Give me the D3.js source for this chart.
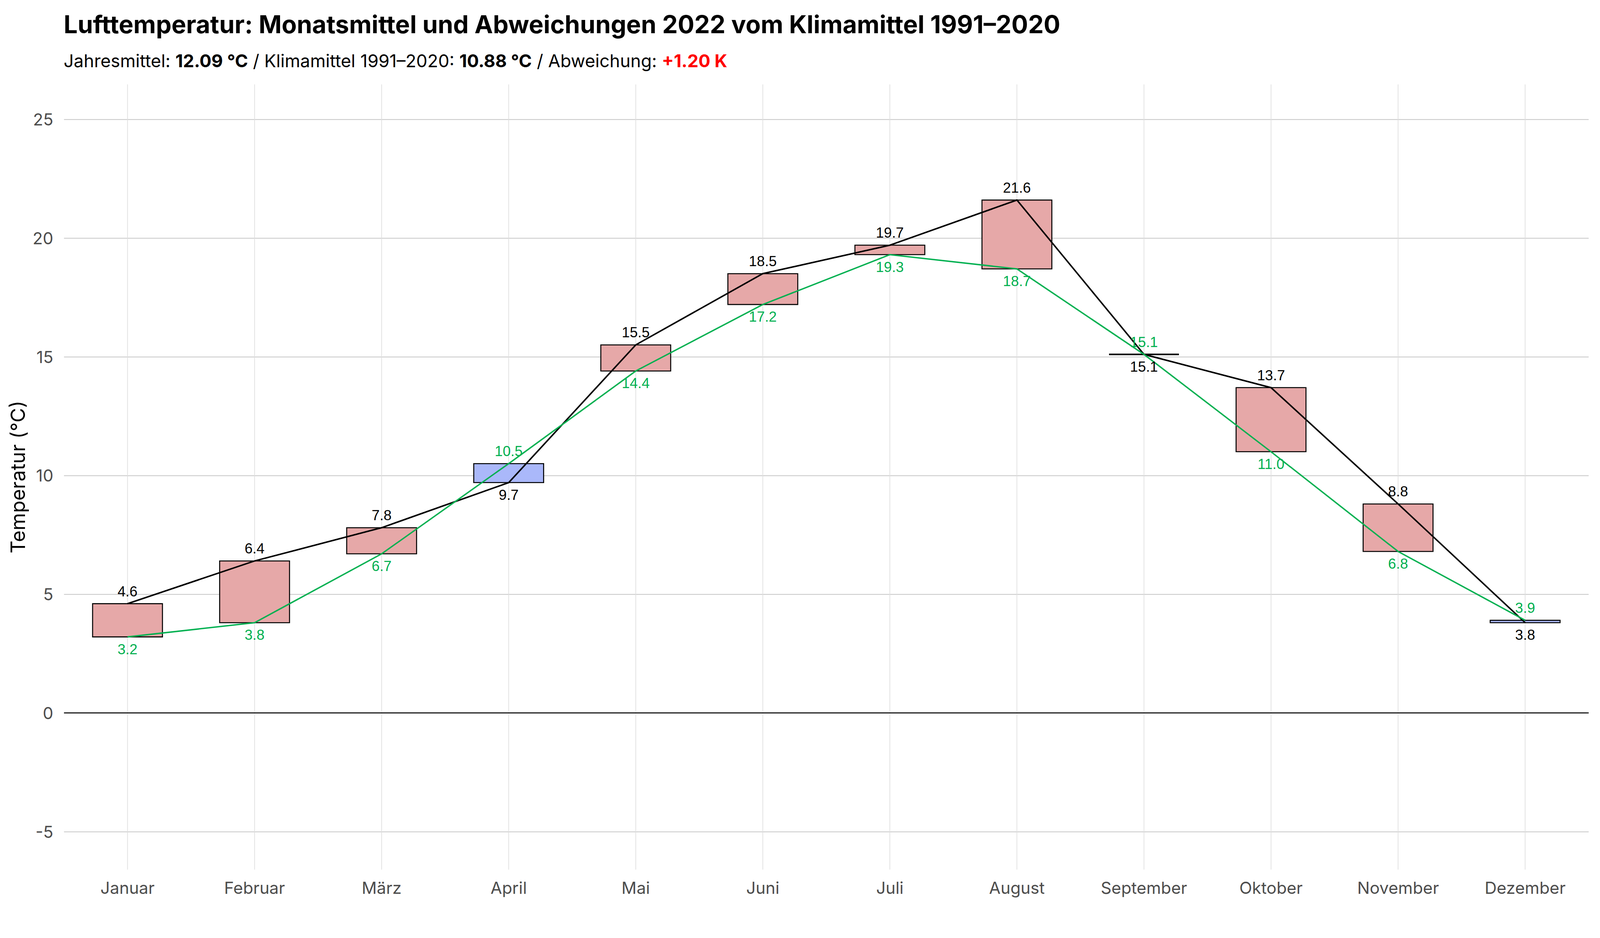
<!DOCTYPE html>
<html>
<head>
<meta charset="utf-8">
<script src="https://cdn.jsdelivr.net/npm/d3@7"></script>
<style>
  html, body { margin: 0; padding: 0; background: #fff; overflow: hidden; }
  svg { font-family: Inter, "Noto Sans", sans-serif; display: block; }
</style>
</head>
<body>
<div id="chart"></div>
<script>
// monthly means 2022 vs. climate normal 1991-2020
const months = ['Januar', 'Februar', 'März', 'April', 'Mai', 'Juni', 'Juli', 'August', 'September', 'Oktober', 'November', 'Dezember'];
const temp2022 = [4.6, 6.4, 7.8, 9.7, 15.5, 18.5, 19.7, 21.6, 15.1, 13.7, 8.8, 3.8];
const climMean = [3.2, 3.8, 6.7, 10.5, 14.4, 17.2, 19.3, 18.7, 15.1, 11.0, 6.8, 3.9];
const yTicks = [-5, 0, 5, 10, 15, 20, 25];

// layout is laid out for 4800x2400 and stretched to whatever the window really is
const W = window.innerWidth || 4800;
const H = window.innerHeight || 2400;
const sx = W / 4800, sy = H / 2400;
const k = Math.min(sx, sy); // font / stroke scale

const panel = { left: 192 * sx, right: 4766 * sx, top: 216 * sy, bottom: 2225 * sy };

const svg = d3.select('#chart')
  .append('svg')
  .attr('width', W)
  .attr('height', H);

const x = d3.scaleBand()
  .domain(months)
  .range([panel.left, panel.right])
  .padding(0);

const y = d3.scaleLinear()
  .domain([-6.6, 26.47])
  .range([panel.bottom, panel.top]);

const cx = m => x(m) + x.bandwidth() / 2;
const barW = x.bandwidth() * 0.55;

// horizontal grid + y labels
const yAxis = svg.append('g')
  .attr('transform', `translate(${panel.left},0)`)
  .call(d3.axisLeft(y)
    .tickValues(yTicks)
    .tickSize(-(panel.right - panel.left))
    .tickPadding(32 * sx)
    .tickFormat(d => String(d)));
yAxis.select('.domain').remove();
yAxis.selectAll('line').attr('stroke', '#cccccc').attr('stroke-width', 2.7 * k);
yAxis.selectAll('text')
  .attr('fill', '#4d4d4d')
  .attr('font-size', 50 * k)
  .attr('font-family', 'Inter, sans-serif')
  .attr('dy', '0.36em');

// vertical grid + month labels
const xAxis = svg.append('g')
  .attr('transform', `translate(0,${panel.bottom})`)
  .call(d3.axisBottom(x)
    .tickSize(-(panel.bottom - panel.top))
    .tickPadding(62 * sy - 0.71 * 50 * k));
xAxis.select('.domain').remove();
xAxis.selectAll('line').attr('stroke', '#dedede').attr('stroke-width', 2 * k);
xAxis.selectAll('text')
  .attr('fill', '#4d4d4d')
  .attr('font-size', 50 * k)
  .attr('font-family', 'Inter, sans-serif');

// zero line
svg.append('line')
  .attr('x1', panel.left)
  .attr('x2', panel.right)
  .attr('y1', y(0))
  .attr('y2', y(0))
  .attr('stroke', '#000')
  .attr('stroke-width', 3 * k);

const data = months.map((m, i) => ({ month: m, t: temp2022[i], c: climMean[i] }));

// deviation boxes (path so a zero-height box still shows as a line)
svg.selectAll('path.bar')
  .data(data)
  .enter()
  .append('path')
  .attr('class', 'bar')
  .attr('d', d => {
    const x0 = cx(d.month) - barW / 2;
    const y0 = y(Math.max(d.t, d.c));
    const y1 = y(Math.min(d.t, d.c));
    return `M${x0},${y0}H${x0 + barW}V${y1}H${x0}Z`;
  })
  .attr('fill', d => d.t > d.c ? '#e6a8a8' : '#aab8fa')
  .attr('stroke', '#000')
  .attr('stroke-width', d => (d.t === d.c ? 4.5 : 3) * k);

// lines
const lineT = d3.line().x(d => cx(d.month)).y(d => y(d.t));
const lineC = d3.line().x(d => cx(d.month)).y(d => y(d.c));

svg.append('path')
  .datum(data)
  .attr('d', lineT)
  .attr('fill', 'none')
  .attr('stroke', '#000')
  .attr('stroke-width', 4.5 * k);

svg.append('path')
  .datum(data)
  .attr('d', lineC)
  .attr('fill', 'none')
  .attr('stroke', '#00b050')
  .attr('stroke-width', 4.2 * k);

// value labels
const above = v => y(v) - 19 * sy;
const below = v => y(v) + 44 * sy;
const labelFont = '"Liberation Sans", Arial, sans-serif';

svg.selectAll('text.t22')
  .data(data)
  .enter()
  .append('text')
  .attr('class', 't22')
  .attr('x', d => cx(d.month))
  .attr('y', d => d.t > d.c ? above(d.t) : below(d.t))
  .attr('text-anchor', 'middle')
  .attr('font-family', labelFont)
  .attr('font-size', 43 * k)
  .attr('fill', '#000')
  .text(d => d.t.toFixed(1));

svg.selectAll('text.clim')
  .data(data)
  .enter()
  .append('text')
  .attr('class', 'clim')
  .attr('x', d => cx(d.month))
  .attr('y', d => d.t > d.c ? below(d.c) : above(d.c))
  .attr('text-anchor', 'middle')
  .attr('font-family', labelFont)
  .attr('font-size', 43 * k)
  .attr('fill', '#00b050')
  .text(d => d.c.toFixed(1));

// axis title
svg.append('text')
  .attr('transform', `translate(${75 * sx},${(panel.top + panel.bottom) / 2}) rotate(-90)`)
  .attr('text-anchor', 'middle')
  .attr('font-size', 60 * k)
  .attr('fill', '#000')
  .text('Temperatur (°C)');

// title + subtitle
svg.append('text')
  .attr('x', 191 * sx)
  .attr('y', 85 * sy)
  .attr('font-size', 74 * k)
  .attr('font-weight', 700)
  .attr('fill', '#000')
  .text('Lufttemperatur: Monatsmittel und Abweichungen 2022 vom Klimamittel 1991–2020');

const sub = svg.append('text')
  .attr('x', 191 * sx)
  .attr('y', 172 * sy)
  .attr('font-size', 53 * k)
  .attr('fill', '#000');
sub.append('tspan').text('Jahresmittel: ');
sub.append('tspan').attr('font-weight', 700).text('12.09 °C');
sub.append('tspan').text(' / Klimamittel 1991–2020: ');
sub.append('tspan').attr('font-weight', 700).text('10.88 °C');
sub.append('tspan').text(' / Abweichung: ');
sub.append('tspan').attr('font-weight', 700).attr('fill', '#ff0000').text('+1.20 K');
</script>
</body>
</html>
